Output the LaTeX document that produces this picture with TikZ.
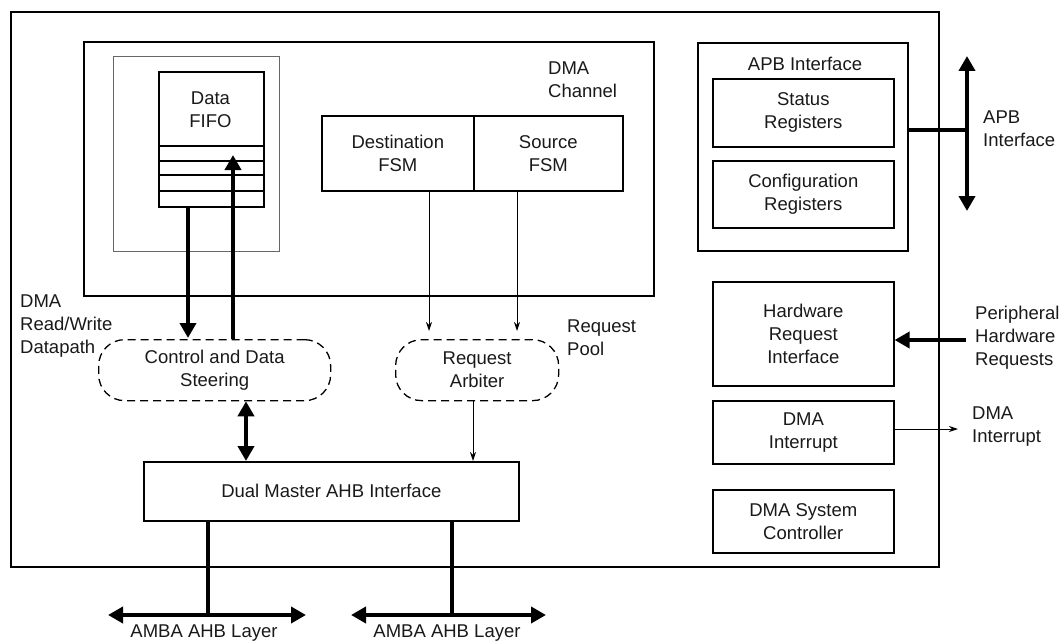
\documentclass[tikz,border=0pt]{standalone}
\usepackage{fontspec}
\setmainfont{Liberation Sans}
\usetikzlibrary{arrows.meta,calc}
\begin{document}
\begin{tikzpicture}[x=1pt,y=-1pt,
  every node/.style={font=\fontsize{18.5}{23}\selectfont, text=black!90},
  blk/.style={draw, line width=1.6pt, inner sep=0pt, align=center, anchor=north west},
  dashbox/.style={draw, line width=1.3pt, dash pattern=on 8pt off 5pt, rounded corners=26pt, inner sep=0pt, align=center, anchor=north west},
  lbl/.style={align=left, anchor=west, inner sep=0pt},
  bigarrow/.style={line width=4.8pt, -{Triangle[length=15pt,width=16pt]}},
  bigboth/.style={line width=4.8pt, {Triangle[length=15pt,width=16pt]}-{Triangle[length=15pt,width=16pt]}},
  thinarrow/.style={line width=1pt, -{Stealth[length=9pt,width=6pt]}},
  bus/.style={line width=4.8pt}
]
\useasboundingbox (0,0) rectangle (1063,642);

% outer frame
\node[blk, line width=1.8pt, minimum width=928pt, minimum height=555pt] (outer) at (10,11) {};

% DMA channel
\node[blk, minimum width=570pt, minimum height=254pt] (chan) at (83,41) {};
\node[lbl] (chanlbl) at (548,80) {DMA\\Channel};
\node[draw, black!60, line width=0.8pt, inner sep=0pt, minimum width=166pt, minimum height=195pt, anchor=north west] (gray) at (113,56) {};
\node[blk, minimum width=105pt, minimum height=135pt] (fifo) at (158,71) {};
\node (fifotxt) at (210.5,110) [align=center] {Data\\FIFO};
\foreach \yy in {146,161,175,191} \draw[line width=1.5pt] (fifo.west |- 0,\yy) -- (fifo.east |- 0,\yy);

\node[blk, minimum width=152pt, minimum height=75pt] (dest) at (321,115) {Destination\\FSM};
\node[blk, minimum width=149pt, minimum height=75pt] (src) at (473,115) {Source\\FSM};

% dashed boxes
\node[dashbox, minimum width=232pt, minimum height=61pt] (cds) at (98,339) {Control and Data\\Steering};
\node[dashbox, minimum width=163pt, minimum height=61pt] (arb) at (395,339) {Request\\Arbiter};
\node[lbl] (pool) at (567,338) {Request\\Pool};
\node[lbl] (rw) at (20,326) {DMA\\Read/Write\\Datapath};

% dual master
\node[blk, minimum width=375pt, minimum height=59pt] (dual) at (143,461) {Dual Master AHB Interface};

% FIFO <-> steering
\coordinate (xa) at (188,0);
\coordinate (xb) at (233,0);
\coordinate (fifotop) at (233,155);
\draw[bigarrow] (xa |- fifo.south) -- ($(xa |- cds.north)+(0,-1)$);
\draw[bigarrow] (xb |- cds.north) -- (fifotop);

% FSM -> arbiter
\coordinate (xd) at (429,0);
\coordinate (xs) at (517,0);
\draw[thinarrow] (xd |- dest.south) -- ($(xd |- arb.north)+(0,-8)$);
\draw[thinarrow] (xs |- src.south) -- ($(xs |- arb.north)+(0,-8)$);

% arbiter -> dual
\coordinate (xr) at (473,0);
\draw[thinarrow] (xr |- arb.south) -- (xr |- dual.north);
% steering <-> dual
\coordinate (xc) at (246,0);
\draw[bigboth] (xc |- cds.south) -- (xc |- dual.north);

% AHB buses
\coordinate (bl1) at (108,615);
\coordinate (br1) at (306,615);
\coordinate (bl2) at (351,615);
\coordinate (br2) at (546,615);
\draw[bigboth] (bl1) -- (br1);
\draw[bigboth] (bl2) -- (br2);
\draw[bus] (208,0 |- dual.south) -- (208,615);
\draw[bus] (452,0 |- dual.south) -- (452,615);
\node (ahb1) at (204,633) {AMBA AHB Layer};
\node (ahb2) at (447,633) {AMBA AHB Layer};

% APB interface
\node[blk, minimum width=210pt, minimum height=208pt] (apb) at (697,42) {};
\node (apbtitle) at (805,64) {APB Interface};
\node[blk, minimum width=181pt, minimum height=68pt] (stat) at (712,78) {Status\\Registers};
\node[blk, minimum width=181pt, minimum height=67pt] (conf) at (712,160) {Configuration\\Registers};
\coordinate (apbtop) at (967,56);
\coordinate (apbbot) at (967,211);
\coordinate (apbj) at (967,130);
\draw[bigboth] (apbtop) -- (apbbot);
\draw[line width=4pt] (apb.east |- apbj) -- (apbj);
\node[lbl] (apblbl) at (983,129) {APB\\Interface};

% hardware request
\node[blk, minimum width=181pt, minimum height=104pt] (hri) at (712,281) {Hardware\\Request\\Interface};
\coordinate (hrisrc) at (966,340);
\draw[bigarrow] (hrisrc) -- (hri.east |- hrisrc);
\node[lbl] (perlbl) at (975,338) {Peripheral\\Hardware\\Requests};

% interrupt
\node[blk, minimum width=181pt, minimum height=63pt] (intr) at (712,400) {DMA\\Interrupt};
\coordinate (intout) at (958,429);
\draw[thinarrow] (intr.east |- intout) -- (intout);
\node[lbl] (intlbl) at (972,427) {DMA\\Interrupt};

% system controller
\node[blk, minimum width=181pt, minimum height=63pt] (sys) at (712,489) {DMA System\\Controller};
\end{tikzpicture}
\end{document}
